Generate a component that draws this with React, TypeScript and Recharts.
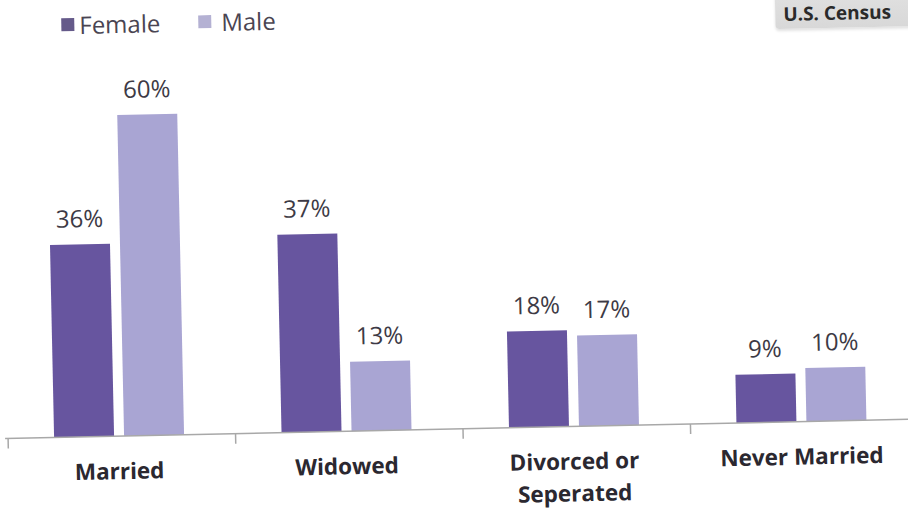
import React from "react";
import { Bar, BarChart, LabelList, XAxis, YAxis } from "recharts";

const categories = ["Married", "Widowed", "Divorced or Seperated", "Never Married"];
const categoryLines = [["Married"], ["Widowed"], ["Divorced or", "Seperated"], ["Never Married"]];
const female = [36, 37, 18, 9];
const male = [60, 13, 17, 10];

const femaleColor = "#67559f";
const maleColor = "#a9a5d3";
const textColor = "#3d3a45";
const font = "'Open Sans', 'Noto Sans', sans-serif";

const data = categories.map((name, i) => ({ name, female: female[i], male: male[i] }));

const BAND = 227.5;

const CategoryTick = (props: any) => {
  const { x, y, index } = props;
  const lines = categoryLines[index] || [];
  return (
    <g>
      <line x1={x - BAND / 2 + 3} y1={y} x2={x - BAND / 2 + 3} y2={y + 10} stroke="#a8a8a8" strokeWidth={1.5} />
      {index === categories.length - 1 && (
        <line x1={x + BAND / 2 + 3} y1={y} x2={x + BAND / 2 + 3} y2={y + 10} stroke="#a8a8a8" strokeWidth={1.5} />
      )}
      {lines.map((l: string, k: number) => (
        <text
          key={k}
          x={x}
          y={y + 43 + k * 32}
          textAnchor="middle"
          fontFamily={font}
          fontWeight={700}
          fontSize={22.5}
          fill="#2b2830"
        >
          {l}
        </text>
      ))}
    </g>
  );
};

export default function App() {
  return (
    <div style={{ position: "fixed", left: 0, top: 0, width: 908, height: 514, overflow: "hidden", background: "#fff" }}>
      <div
        style={{
          position: "absolute",
          left: 0,
          top: 0,
          width: 940,
          height: 514,
          transform: "rotate(-1.22deg)",
          transformOrigin: "455px 429px",
        }}
      >
        {/* legend */}
        <div
          style={{
            position: "absolute",
            left: 70,
            top: 0,
            display: "flex",
            alignItems: "center",
            fontFamily: font,
            fontSize: 24,
            color: "#4a4552",
          }}
        >
          <span style={{ width: 13, height: 13, background: "#655a8a", display: "inline-block", marginRight: 5 }} />
          <span>Female</span>
          <span style={{ width: 13, height: 13, background: "#b4b1d3", display: "inline-block", marginLeft: 38, marginRight: 10 }} />
          <span>Male</span>
        </div>
        {/* source box */}
        <div
          style={{
            position: "absolute",
            left: 784,
            top: -22,
            width: 160,
            height: 58,
            background: "linear-gradient(#e6e6e6, #d8d8d8)",
            borderRadius: 4,
            boxShadow: "0 2px 3px rgba(0,0,0,0.12)",
          }}
        >
          <span
            style={{
              position: "absolute",
              left: 8,
              top: 32,
              fontFamily: font,
              fontWeight: 700,
              fontSize: 19,
              lineHeight: "22px",
              color: "#2a2a2a",
              whiteSpace: "nowrap",
            }}
          >
            U.S. Census
          </span>
        </div>
        <BarChart
          width={940}
          height={514}
          data={data}
          margin={{ top: 54.5, right: 25, left: 5, bottom: 0 }}
          barSize={60}
          barGap={10}
        >
          <YAxis hide domain={[0, 70]} />
          <XAxis
            dataKey="name"
            height={85}
            interval={0}
            tickLine={false}
            tickSize={0}
            tickMargin={0}
            axisLine={{ stroke: "#a8a8a8", strokeWidth: 1.5 }}
            tick={<CategoryTick />}
          />
          <Bar dataKey="female" fill={femaleColor} isAnimationActive={false}>
            <LabelList
              dataKey="female"
              position="top"
              offset={17}
              formatter={(v: any) => `${v}%`}
              style={{ fontFamily: font, fontSize: 24, fill: textColor }}
            />
          </Bar>
          <Bar dataKey="male" fill={maleColor} isAnimationActive={false}>
            <LabelList
              dataKey="male"
              position="top"
              offset={17}
              formatter={(v: any) => `${v}%`}
              style={{ fontFamily: font, fontSize: 24, fill: textColor }}
            />
          </Bar>
        </BarChart>
      </div>
    </div>
  );
}
